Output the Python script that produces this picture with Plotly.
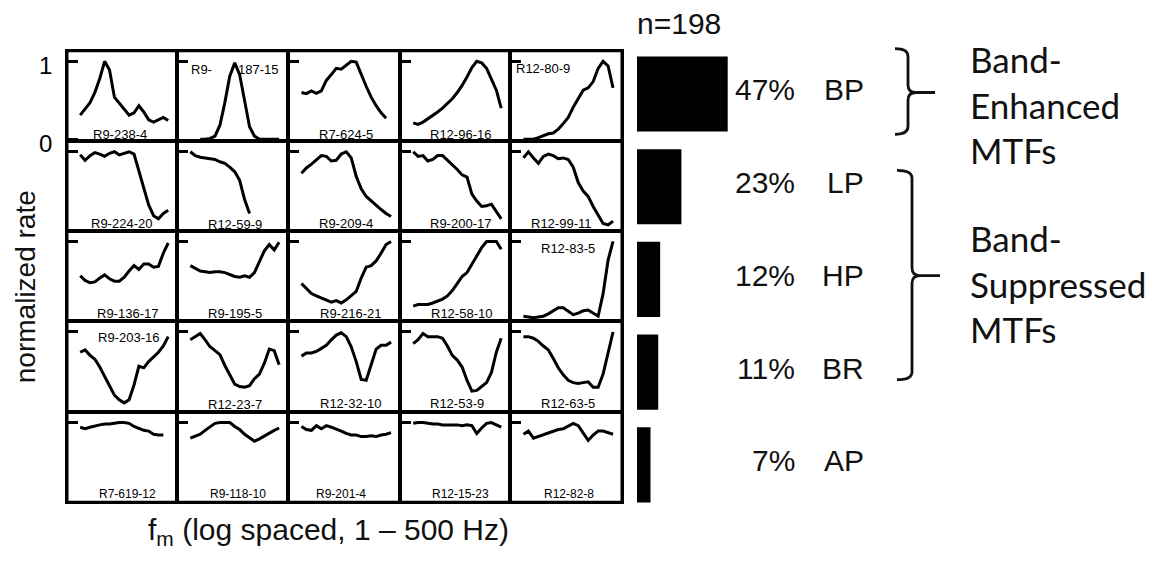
import plotly.graph_objects as go

W, H = 1150, 568

# ---------------- data ----------------
FM_HZ = [1, 1.41, 2.0, 2.82, 3.98, 5.62, 7.94, 11.2, 15.8, 22.4, 31.6, 44.7,
         63.1, 89.1, 126, 178, 251, 355, 500]

ROW1_NAMES = ["R9-238-4", "R9-187-15", "R7-624-5", "R12-96-16", "R12-80-9"]
ROW1_RATES = [
    [0.31, 0.39, 0.47, 0.60, 0.78, 1.00, 0.89, 0.54, 0.46, 0.39, 0.31, 0.34, 0.43, 0.35, 0.25, 0.22, 0.25, 0.28, 0.24],
    [None, None, 0.00, 0.00, 0.01, 0.04, 0.18, 0.47, 0.81, 0.98, 0.83, 0.47, 0.16, 0.04, 0.00, 0.00, 0.00, 0.00, 0.00],
    [0.60, 0.585, 0.62, 0.59, 0.62, 0.755, 0.83, 0.91, 0.90, 0.955, 1.00, 0.99, 0.83, 0.68, 0.54, 0.43, 0.34, 0.27, None],
    [0.21, 0.19, 0.22, 0.26, 0.30, 0.35, 0.40, 0.46, 0.52, 0.60, 0.69, 0.80, 0.92, 1.00, 0.98, 0.91, 0.78, 0.63, 0.40],
    [0.00, 0.00, 0.00, 0.02, 0.04, 0.07, 0.08, 0.13, 0.20, 0.28, 0.41, 0.53, 0.63, 0.66, 0.74, 0.91, 1.00, 0.94, 0.66],
]

ROW2_NAMES = ["R9-224-20", "R12-59-9", "R9-209-4", "R9-200-17", "R12-99-11"]
ROW2_RATES = [
    [0.96, 0.89, 0.95, 0.99, 0.97, 0.94, 0.98, 1.00, 0.96, 0.98, 1.00, 0.97, 0.75, 0.52, 0.31, 0.17, 0.13, 0.20, 0.24],
    [1.00, 0.95, 0.93, 0.92, 0.91, 0.90, 0.87, 0.85, 0.80, 0.74, 0.63, 0.38, 0.20, None, None, None, None, None, None],
    [0.72, 0.79, 0.84, 0.90, 0.95, 0.94, 0.88, 0.89, 0.97, 1.00, 0.92, 0.68, 0.52, 0.42, 0.36, 0.30, 0.25, 0.20, 0.16],
    [1.00, 0.94, 0.95, 0.88, 0.90, 0.95, 0.95, 0.89, 0.84, 0.77, 0.70, 0.67, 0.45, 0.36, 0.29, 0.30, 0.32, 0.23, 0.13],
    [0.92, 1.00, 0.92, 0.85, 0.94, 0.97, 0.95, 0.91, 0.92, 0.90, 0.80, 0.60, 0.49, 0.42, 0.29, 0.17, 0.07, 0.05, 0.10],
]

ROW3_NAMES = ["R9-136-17", "R9-195-5", "R9-216-21", "R12-58-10", "R12-83-5"]
ROW3_RATES = [
    [0.56, 0.50, 0.47, 0.48, 0.53, 0.57, 0.52, 0.49, 0.49, 0.54, 0.62, 0.69, 0.64, 0.71, 0.71, 0.67, 0.68, 0.85, 0.98],
    [0.69, 0.65, 0.62, 0.61, 0.60, 0.61, 0.61, 0.60, 0.57, 0.55, 0.54, 0.56, 0.54, 0.60, 0.74, 0.88, 0.96, 0.89, 0.99],
    [0.46, 0.39, 0.33, 0.30, 0.27, 0.24, 0.22, 0.24, 0.21, 0.25, 0.30, 0.36, 0.53, 0.67, 0.69, 0.75, 0.85, 0.96, 1.00],
    [0.17, 0.19, 0.19, 0.19, 0.21, 0.23, 0.26, 0.30, 0.37, 0.46, 0.55, 0.60, 0.71, 0.82, 0.92, 1.00, 1.00, 1.00, 0.90],
    [0.04, 0.03, 0.02, 0.03, 0.04, 0.07, 0.11, 0.15, 0.15, 0.11, 0.06, 0.08, 0.11, 0.12, 0.08, 0.04, 0.33, 0.76, 1.00],
]

ROW4_NAMES = ["R9-203-16", "R12-23-7", "R12-32-10", "R12-53-9", "R12-63-5"]
ROW4_RATES = [
    [0.74, 0.77, 0.70, 0.65, 0.55, 0.43, 0.31, 0.19, 0.13, 0.09, 0.13, 0.32, 0.56, 0.54, 0.62, 0.68, 0.74, 0.82, 0.94],
    [0.90, 0.94, 0.98, 0.90, 0.81, 0.76, 0.71, 0.57, 0.44, 0.33, 0.30, 0.29, 0.31, 0.40, 0.46, 0.60, 0.78, 0.76, 0.58],
    [0.69, 0.73, 0.73, 0.75, 0.79, 0.83, 0.90, 0.96, 0.99, 0.94, 0.81, 0.62, 0.39, 0.38, 0.58, 0.78, 0.83, 0.83, 0.87],
    [0.85, 0.90, 0.98, 0.94, 0.94, 0.94, 0.92, 0.82, 0.70, 0.64, 0.55, 0.38, 0.24, 0.25, 0.30, 0.35, 0.48, 0.74, 0.92],
    [0.94, 0.94, 0.92, 0.88, 0.82, 0.77, 0.66, 0.54, 0.45, 0.38, 0.35, 0.34, 0.35, 0.36, 0.29, 0.29, 0.46, 0.75, 1.00],
]

ROW5_NAMES = ["R7-619-12", "R9-118-10", "R9-201-4", "R12-15-23", "R12-82-8"]
ROW5_RATES = [
    [0.94, 0.92, 0.94, 0.96, 0.97, 0.98, 0.98, 0.99, 1.00, 1.00, 0.99, 0.95, 0.93, 0.90, 0.89, 0.85, 0.84, 0.84, None],
    [0.80, 0.83, 0.85, 0.90, 0.94, 0.99, 1.00, 1.00, 1.00, 0.95, 0.91, 0.85, 0.80, 0.76, 0.79, 0.83, 0.87, 0.90, 0.93],
    [0.95, 0.91, 0.90, 0.96, 0.92, 0.96, 0.94, 0.92, 0.89, 0.86, 0.84, 0.84, 0.82, 0.82, 0.83, 0.82, 0.84, 0.85, 0.87],
    [0.99, 1.00, 1.00, 0.99, 0.98, 0.98, 0.97, 0.97, 0.97, 0.97, 0.96, 0.97, 0.96, 0.86, 0.93, 0.99, 1.00, 0.97, 0.94],
    [0.85, 0.89, 0.80, 0.82, 0.84, 0.87, 0.89, 0.91, 0.92, 0.95, 0.99, 0.96, 0.86, 0.77, 0.84, 0.89, 0.89, 0.87, 0.85],
]

CLASSES = ["BP", "LP", "HP", "BR", "AP"]
PERCENT = [47, 23, 12, 11, 7]
N_UNITS = 198
GROUP_ENHANCED = "Band-<br>Enhanced<br>MTFs"
GROUP_SUPPRESSED = "Band-<br>Suppressed<br>MTFs"

# ---------------- layout constants (page pixels) ----------------
COL_EDGES = [67, 177, 288, 400, 510, 622]
ROW_EDGES = [52, 145, 237, 330, 423, 516]
LABEL_XY = [
    (120, 138), None, (346, 138), (460, 138), (543, 70),
    (121, 230), (235, 231), (346, 230), (460, 230), (561, 230),
    (127, 322), (235, 322), (350, 322), (461, 322), (568, 255),
    (128, 347), (235, 415), (350, 414), (457, 414), (568, 414),
    (127, 507), (238, 507), (341, 507), (460, 507), (569, 507),
]
ARIAL = "Liberation Sans, Arial, sans-serif"


def pxx(p):
    return p / W


def pxy(p):
    return 1 - p / H


ROWS_RATES = [ROW1_RATES, ROW2_RATES, ROW3_RATES, ROW4_RATES, ROW5_RATES]
ROWS_NAMES = [ROW1_NAMES, ROW2_NAMES, ROW3_NAMES, ROW4_NAMES, ROW5_NAMES]

fig = go.Figure()
layout = {}
annotations = []
k = 0
for r in range(5):
    for c in range(5):
        k += 1
        sfx = "" if k == 1 else str(k)
        fig.add_trace(go.Scatter(
            x=FM_HZ, y=ROWS_RATES[r][c], mode="lines",
            line=dict(color="black", width=3),
            xaxis="x" + sfx, yaxis="y" + sfx,
            hoverinfo="skip", showlegend=False))
        layout["xaxis" + sfx] = dict(
            domain=[pxx(COL_EDGES[c]), pxx(COL_EDGES[c + 1])],
            type="log", range=[-0.405, 2.969],
            showgrid=False, zeroline=False, showticklabels=False, ticks="",
            showline=True, mirror=True, linecolor="black", linewidth=1.7,
            anchor="y" + sfx, fixedrange=True)
        yax = dict(
            domain=[pxy(ROW_EDGES[r + 1]), pxy(ROW_EDGES[r])],
            range=[-0.025, 1.1375],
            showgrid=False, zeroline=False,
            tickvals=[1], ticks="inside", ticklen=11, tickwidth=2.5,
            tickcolor="black", showticklabels=False,
            showline=True, mirror=True, linecolor="black", linewidth=1.7,
            anchor="x" + sfx, fixedrange=True)
        if k == 1:
            yax.update(tickvals=[0, 1], ticktext=["0", "1"], showticklabels=True,
                       tickfont=dict(family=ARIAL, size=24, color="black"),
                       ticklabelstandoff=8, ticklabelshift=4)
        layout["yaxis" + sfx] = yax

        name = ROWS_NAMES[r][c]
        if LABEL_XY[k - 1] is None:
            # label split around the sharp peak
            parts = name.split("-", 1)
            for txt, xy in ((parts[0] + "-", (201, 71)), (parts[1], (258, 71))):
                annotations.append(dict(
                    text=txt, x=pxx(xy[0]), y=pxy(xy[1]), xref="paper", yref="paper",
                    showarrow=False, xanchor="center", yanchor="middle",
                    font=dict(family=ARIAL, size=13, color="black")))
        else:
            lx, ly = LABEL_XY[k - 1]
            annotations.append(dict(
                text=name, x=pxx(lx), y=pxy(ly), xref="paper", yref="paper",
                showarrow=False, xanchor="center", yanchor="middle",
                font=dict(family=ARIAL, size=13 if r < 4 else 12, color="black")))

# ---------------- bar chart ----------------
fig.add_trace(go.Bar(
    x=PERCENT, y=CLASSES, orientation="h", width=0.81,
    marker=dict(color="black", line=dict(width=0)),
    xaxis="x26", yaxis="y26", hoverinfo="skip", showlegend=False))
layout["xaxis26"] = dict(domain=[pxx(637), pxx(837)], range=[0, 200 / 1.93],
                         visible=False, anchor="y26", fixedrange=True)
layout["yaxis26"] = dict(domain=[pxy(525.1), pxy(48.9)], range=[4.5, -0.5],
                         type="category", categoryorder="array", categoryarray=CLASSES,
                         visible=False, anchor="x26", fixedrange=True)

for cls, pct in zip(CLASSES, PERCENT):
    annotations.append(dict(
        text=f"{pct}%", x=pxx(797), y=cls, xref="paper", yref="y26",
        showarrow=False, xanchor="right", yanchor="middle", yshift=4,
        font=dict(family=ARIAL, size=30, color="#111111")))
    annotations.append(dict(
        text=cls, x=pxx(866), y=cls, xref="paper", yref="y26",
        showarrow=False, xanchor="right", yanchor="middle", yshift=4,
        font=dict(family=ARIAL, size=30, color="#111111")))

annotations.append(dict(
    text=f"n={N_UNITS}", x=pxx(679), y=pxy(24), xref="paper", yref="paper",
    showarrow=False, xanchor="center", yanchor="middle",
    font=dict(family=ARIAL, size=30, color="#111111")))

annotations.append(dict(
    text=GROUP_ENHANCED, x=pxx(968), y=pxy(107), xref="paper", yref="paper",
    showarrow=False, xanchor="left", yanchor="middle", align="left",
    font=dict(family="Lato, sans-serif", size=35, color="#111111")))
annotations.append(dict(
    text=GROUP_SUPPRESSED, x=pxx(968), y=pxy(291), xref="paper", yref="paper",
    showarrow=False, xanchor="left", yanchor="middle", align="left",
    font=dict(family="Lato, sans-serif", size=35, color="#111111")))

annotations.append(dict(
    text="normalized rate", x=pxx(25), y=pxy(295), xref="paper", yref="paper",
    showarrow=False, textangle=-90, xanchor="center", yanchor="middle",
    font=dict(family=ARIAL, size=28, color="#111111")))
annotations.append(dict(
    text="f<sub>m</sub> (log spaced, 1 \u2013 500 Hz)", x=pxx(328), y=pxy(546),
    xref="paper", yref="paper", showarrow=False, xanchor="center", yanchor="middle",
    font=dict(family=ARIAL, size=30, color="#111111")))


def brace_path(x_serif, x_spine, x_tip, y_top, y_mid, y_bot, rad=8):
    def P(x, y):
        return f"{pxx(x):.5f},{pxy(y):.5f}"
    return (f"M {P(x_serif, y_top)} Q {P(x_spine, y_top)} {P(x_spine, y_top + rad)} "
            f"L {P(x_spine, y_mid - rad)} Q {P(x_spine, y_mid)} {P(x_spine + rad, y_mid)} "
            f"L {P(x_tip, y_mid)} M {P(x_spine + rad, y_mid)} "
            f"Q {P(x_spine, y_mid)} {P(x_spine, y_mid + rad)} "
            f"L {P(x_spine, y_bot - rad)} Q {P(x_spine, y_bot)} {P(x_serif, y_bot)}")


shapes = [
    dict(type="path", xref="paper", yref="paper",
         path=brace_path(895, 908, 935, 50, 95, 138),
         line=dict(color="#111111", width=2.8)),
    dict(type="path", xref="paper", yref="paper",
         path=brace_path(897, 912, 940, 175, 283, 390),
         line=dict(color="#111111", width=2.8)),
    dict(type="rect", xref="paper", yref="paper",
         x0=pxx(COL_EDGES[0]), x1=pxx(COL_EDGES[-1]),
         y0=pxy(ROW_EDGES[-1]), y1=pxy(ROW_EDGES[0]),
         line=dict(color="black", width=3)),
]

fig.update_layout(
    width=W, height=H, margin=dict(l=0, r=0, t=0, b=0),
    paper_bgcolor="white", plot_bgcolor="white",
    showlegend=False, annotations=annotations, shapes=shapes,
    bargap=0.19, **layout)

fig.write_html(
    "out.html", config={"displayModeBar": False},
    post_script="document.body.style.margin='0';document.body.style.padding='0';"
                "document.body.style.overflow='hidden';")
